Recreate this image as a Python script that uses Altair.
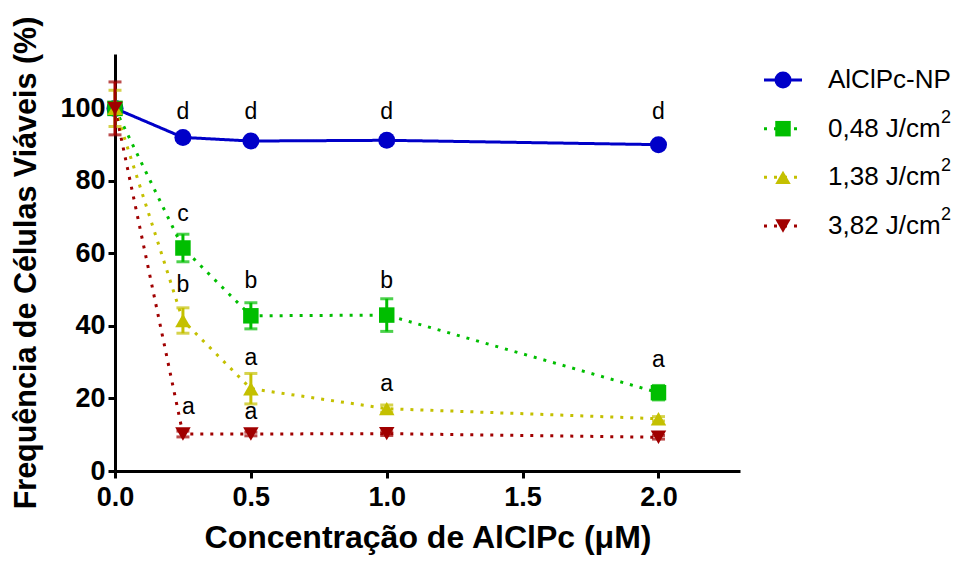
import altair as alt
import pandas as pd

# ---- data ----
conc = [0.0, 0.25, 0.5, 1.0, 2.0]
series_names = ["AlClPc-NP", "0,48 J/cm2", "1,38 J/cm2", "3,82 J/cm2"]
legend_main = ["AlClPc-NP", "0,48 J/cm", "1,38 J/cm", "3,82 J/cm"]
legend_sup = ["", "2", "2", "2"]
np_vals = [100, 92.0, 91.0, 91.2, 90.0]
np_err = [1.0, 0.6, 0.6, 0.6, 0.6]
g_vals = [100, 61.5, 42.8, 43.0, 21.6]
g_err = [1.5, 3.8, 3.6, 4.5, 2.0]
y_vals = [100, 41.5, 22.7, 17.2, 14.4]
y_err = [5.0, 3.5, 4.2, 1.0, 0.6]
r_vals = [100, 10.2, 10.2, 10.3, 9.3]
r_err = [7.3, 0.8, 0.5, 0.5, 0.5]

letter_x = [0.25, 0.5, 1.0, 2.0, 0.25, 0.5, 1.0, 2.0, 0.25, 0.5, 1.0, 0.27, 0.5]
letter_y = [98.9, 98.9, 98.9, 98.9, 70.9, 52.4, 52.4, 30.5, 51.2, 31.3, 24.1, 17.7, 16.3]
letter_t = ["d", "d", "d", "d", "c", "b", "b", "a", "b", "a", "a", "a", "a"]

colors = ["#0000C8", "#00BE00", "#C4C000", "#A00000"]
shapes = ["circle", "square", "triangle-up", "triangle-down"]
dashes = [[1, 0], [3, 7], [3, 7], [3, 7]]

rows = []
for name, vals, errs in zip(series_names, [np_vals, g_vals, y_vals, r_vals], [np_err, g_err, y_err, r_err]):
    for xv, v, e in zip(conc, vals, errs):
        rows.append({"serie": name, "x": xv, "y": v, "lo": v - e, "hi": v + e})
df = pd.DataFrame(rows)
letters = pd.DataFrame({"x": letter_x, "y": letter_y, "t": letter_t})

FONT = "Liberation Sans"
xs = alt.Scale(domain=[0, 2.3], nice=False)
ys = alt.Scale(domain=[0, 115], nice=False)

layers = []
for name, c, s, d in zip(series_names, colors, shapes, dashes):
    sub = df[df.serie == name]
    base = alt.Chart(sub)
    line = base.mark_line(color=c, strokeWidth=3, strokeDash=d).encode(
        x=alt.X("x:Q", scale=xs,
                axis=alt.Axis(values=[0, 0.5, 1.0, 1.5, 2.0], format=".1f", labelFlush=False,
                              title="Concentração de AlClPc (μM)")),
        y=alt.Y("y:Q", scale=ys,
                axis=alt.Axis(values=[0, 20, 40, 60, 80, 100], labelFlush=False,
                              title="Frequência de Células Viáveis (%)")),
    )
    layers.append(line)
for name, c, s, d in zip(series_names, colors, shapes, dashes):
    sub = df[df.serie == name]
    base = alt.Chart(sub)
    eb = base.mark_rule(color=c, strokeWidth=3).encode(x="x:Q", y="lo:Q", y2="hi:Q")
    cap1 = base.mark_tick(color=c, thickness=3, size=13, orient="horizontal").encode(x="x:Q", y="lo:Q")
    cap2 = base.mark_tick(color=c, thickness=3, size=13, orient="horizontal").encode(x="x:Q", y="hi:Q")
    pts = base.mark_point(color=c, fill=c, filled=True, opacity=1, shape=s,
                          size=290 if s == "circle" else 240).encode(x="x:Q", y="y:Q")
    layers += [eb, cap1, cap2, pts]

txt = alt.Chart(letters).mark_text(font=FONT, fontSize=23, color="black", baseline="middle").encode(
    x="x:Q", y="y:Q", text="t:N")
layers.append(txt)

main = alt.layer(*layers).properties(width=625, height=417)

# ---- legend panel ----
leg = pd.DataFrame({"serie": series_names, "lab": legend_main, "sup": legend_sup,
                    "x0": [0] * 4, "x1": [38] * 4, "xm": [19] * 4, "xt": [64] * 4,
                    "xs": [177] * 4})
ly = alt.Y("serie:N", sort=series_names, axis=None,
           scale=alt.Scale(type="point", domain=series_names, range=[26, 172], padding=0))
lx = alt.Scale(domain=[0, 175], range=[0, 175])
lbase = alt.Chart(leg)
leg_layers = []
for name, c, s, d in zip(series_names, colors, shapes, dashes):
    sub = leg[leg.serie == name]
    b = alt.Chart(sub)
    leg_layers.append(b.mark_rule(color=c, strokeWidth=3, strokeDash=d).encode(
        x=alt.X("x0:Q", scale=lx, axis=None), x2="x1:Q", y=ly))
    leg_layers.append(b.mark_point(color=c, fill=c, filled=True, opacity=1, shape=s,
                                   size=290 if s == "circle" else 240).encode(
        x=alt.X("xm:Q", scale=lx, axis=None), y=ly))
leg_layers.append(lbase.mark_text(font=FONT, fontSize=26, color="black", align="left",
                                  baseline="middle").encode(
    x=alt.X("xt:Q", scale=lx, axis=None), y=ly, text="lab:N"))
leg_layers.append(lbase.mark_text(font=FONT, fontSize=18, color="black", align="left",
                                  baseline="middle", dy=-11).encode(
    x=alt.X("xs:Q", scale=lx, axis=None), y=ly, text="sup:N"))
legend = alt.layer(*leg_layers).properties(width=175, height=417)

chart = alt.hconcat(main, legend, spacing=22).properties(
    padding={"left": 3, "top": 8, "right": 0, "bottom": 2}
).configure_view(stroke=None).configure_axis(
    domainColor="black", domainWidth=3, tickColor="black", tickWidth=3, tickSize=7,
    grid=False, labelFont=FONT, labelFontWeight="bold", labelFontSize=27, labelColor="black",
    titleFont=FONT, titleFontWeight="bold", titleFontSize=30.5, titleColor="black",
    labelPadding=3,
).configure_axisY(titlePadding=18).configure_axisX(titlePadding=12, titleFontSize=32, labelPadding=6)

chart.save("out.html", embed_options={"renderer": "svg", "actions": False})
